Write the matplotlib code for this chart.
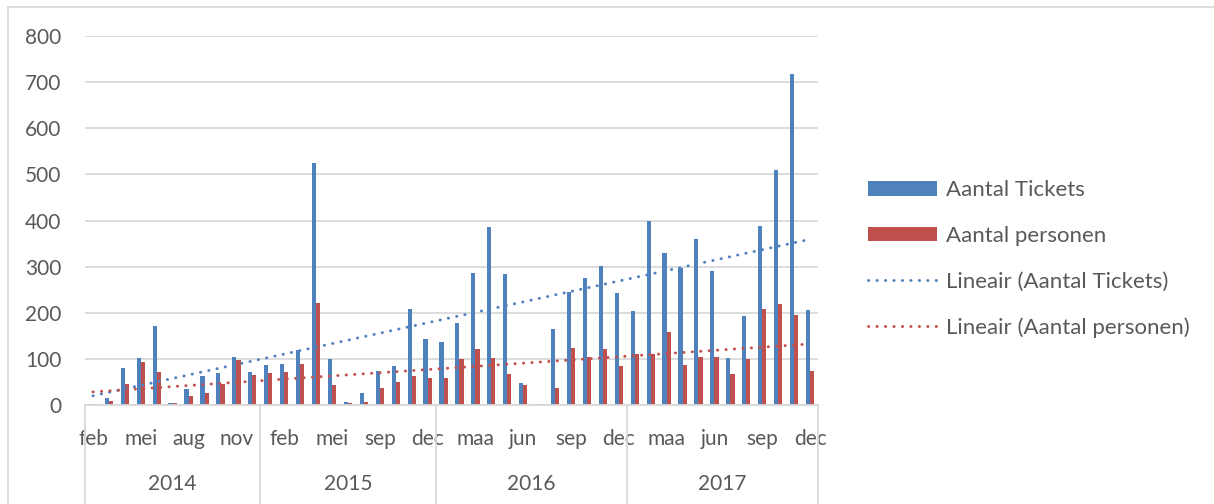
import matplotlib
matplotlib.use("Agg")
import matplotlib.pyplot as plt
import matplotlib.transforms as mtransforms
from matplotlib.lines import Line2D
import numpy as np

plt.rcParams['font.family'] = ['Lato', 'DejaVu Sans']

# maanden per jaar (2015 mist juni)
years = ["2014", "2015", "2016", "2017"]
months_2014 = ["feb", "maa", "apr", "mei", "jun", "jul", "aug", "sep", "okt", "nov", "dec"]
months_2015 = ["jan", "feb", "maa", "apr", "mei", "jul", "aug", "sep", "okt", "nov", "dec"]
months_2016 = ["jan", "feb", "maa", "apr", "mei", "jun", "jul", "aug", "sep", "okt", "nov", "dec"]
months_2017 = ["jan", "feb", "maa", "apr", "mei", "jun", "jul", "aug", "sep", "okt", "nov", "dec"]

tickets = [3, 16, 81, 102, 172, 5, 35, 63, 70, 105, 71,
           86, 89, 119, 524, 99, 7, 25, 74, 84, 208, 144,
           136, 178, 286, 386, 283, 48, 3, 164, 244, 275, 302, 243,
           203, 399, 330, 296, 360, 290, 102, 192, 389, 509, 718, 205]
personen = [3, 9, 45, 94, 71, 4, 19, 25, 45, 97, 64,
            70, 71, 89, 221, 43, 5, 7, 37, 50, 63, 58,
            59, 99, 122, 102, 68, 43, 3, 37, 124, 104, 122, 84,
            111, 110, 159, 86, 103, 105, 68, 99, 209, 219, 196, 74]

blue = "#4F81BD"
red = "#C0504D"
grey_txt = "#595959"
grid_c = "#D9D9D9"

month_groups = [months_2014, months_2015, months_2016, months_2017]
months = [m for g in month_groups for m in g]
x = np.arange(len(months))

fig = plt.figure(figsize=(12.14, 5.04), dpi=100)
ax = fig.add_axes([85 / 1214, 1 - 405 / 504, (818 - 85) / 1214, (405 - 36) / 504])

w = 0.26
h1 = ax.bar(x - w / 2, tickets, w, color=blue, label="Aantal Tickets", zorder=2)
h2 = ax.bar(x + w / 2, personen, w, color=red, label="Aantal personen", zorder=2)
handles = [h1, h2]

# lineaire trendlijnen
for vals, col, name in [(tickets, blue, "Lineair (Aantal Tickets)"),
                        (personen, red, "Lineair (Aantal personen)")]:
    a, b = np.polyfit(x, vals, 1)
    ln, = ax.plot(x, a * x + b, color=col, lw=2.1, linestyle=(0, (0.1, 2.8)),
                  dash_capstyle="round", label=name, zorder=3)
    handles.append(ln)

ax.set_xlim(-0.5, len(months) - 0.5)
ax.set_ylim(0, 800)
ax.set_yticks(range(0, 801, 100))
ax.yaxis.grid(True, color=grid_c, lw=1.3, zorder=0)
ax.tick_params(axis="y", length=0, pad=17, labelsize=15, labelcolor=grey_txt)
ax.set_xticks(x[::3])
ax.set_xticklabels(months[::3])
ax.tick_params(axis="x", length=0, pad=17, labelsize=15, labelcolor=grey_txt)
for s in ["top", "right", "left"]:
    ax.spines[s].set_visible(False)
ax.spines["bottom"].set_color(grid_c)
ax.spines["bottom"].set_linewidth(1.3)

# jaar-niveau van de as
trans = mtransforms.blended_transform_factory(ax.transData, ax.transAxes)
start = -0.5
bounds = [start]
for yr, g in zip(years, month_groups):
    end = start + len(g)
    ax.text((start + end) / 2, -0.215, yr, transform=trans, ha="center", va="center",
            fontsize=15, color=grey_txt)
    start = end
    bounds.append(end)
for bx in bounds:
    ax.plot([bx, bx], [0, -0.27], transform=trans, color=grid_c, lw=1.3, clip_on=False)

leg = fig.legend(handles=handles, loc="center left",
                 bbox_to_anchor=(868 / 1214, 1 - 259 / 504), frameon=False,
                 fontsize=16, handlelength=3.1, handleheight=0.63, labelspacing=1.15,
                 handletextpad=0.4, borderpad=0, borderaxespad=0)
for t in leg.get_texts():
    t.set_color(grey_txt)

# rand van het grafiekgebied
fig.add_artist(Line2D([8 / 1214, 1], [1 - 7 / 504, 1 - 7 / 504], color=grid_c, lw=1.3))
fig.add_artist(Line2D([8 / 1214, 8 / 1214], [0, 1 - 7 / 504], color=grid_c, lw=1.3))

fig.savefig("out.png", dpi=100)
